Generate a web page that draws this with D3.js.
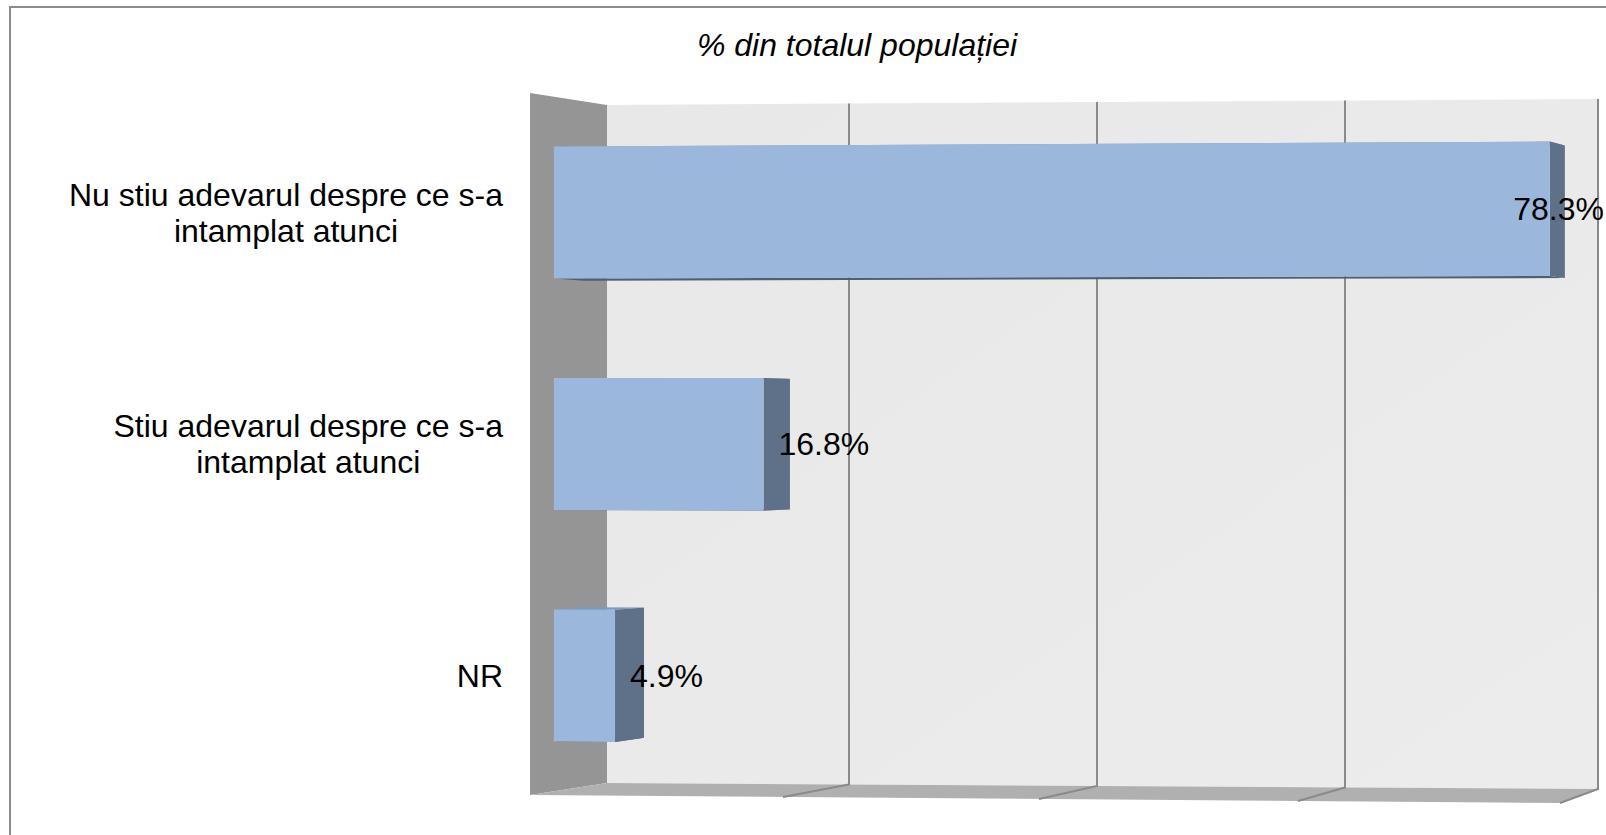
<!DOCTYPE html>
<html>
<head>
<meta charset="utf-8">
<script src="https://cdn.jsdelivr.net/npm/d3@7"></script>
<style>
  body { margin: 0; background: #fff; }
  svg { display: block; font-family: "Liberation Sans", Arial, sans-serif; }
</style>
</head>
<body>
<svg id="canvas" width="1606" height="835"></svg>
<script>
// chart data
const categories = ['Nu stiu adevarul despre ce s-a intamplat atunci', 'Stiu adevarul despre ce s-a intamplat atunci', 'NR'];
const categoryLines = [['Nu stiu adevarul despre ce s-a', 'intamplat atunci'], ['Stiu adevarul despre ce s-a', 'intamplat atunci'], ['NR']];
const values = [78.3, 16.8, 4.9];
const valueLabels = ['78.3%', '16.8%', '4.9%'];
const gridTicks = [0, 20, 40, 60, 80];
const title = '% din totalul populației';

const svg = d3.select('#canvas');

/** fake 3d projection: v = value, z = depth (0 front, 1 back), u = vertical fraction */
const xFront = d3.scaleLinear().domain(gridTicks).range([530, 783, 1039, 1298, 1560]);
const xBack = d3.scaleLinear().domain(gridTicks).range([607, 849, 1097, 1345, 1598]);
const yTopFront = d3.scaleLinear().domain([0, 80]).range([93, 87]);
const yTopBack = d3.scaleLinear().domain([0, 80]).range([105, 99]);
const yBotFront = d3.scaleLinear().domain([0, 80]).range([795, 803]);
const yBotBack = d3.scaleLinear().domain([0, 80]).range([783, 789]);

const lerp = (a, b, t) => a + (b - a) * t;
const proj = (v, z, u) => {
    const x = lerp(xFront(v), xBack(v), z);
    const top = lerp(yTopFront(v), yTopBack(v), z);
    const bot = lerp(yBotFront(v), yBotBack(v), z);
    return [x, lerp(top, bot, u)];
};
const poly = (pts) => 'M' + pts.map(p => proj(...p).join(',')).join('L') + 'Z';

const band = d3.scaleBand().domain(categories).range([0, 1]).paddingInner(0.43).paddingOuter(0.215);
const z1 = 0.31, z2 = 0.70;

/** outer border */
svg.append('rect')
    .attr('x', 10).attr('y', 7).attr('width', 1620).attr('height', 850)
    .attr('fill', 'none').attr('stroke', '#8c8c8c').attr('stroke-width', 2);

/** title */
svg.append('text')
    .attr('x', 857).attr('y', 56)
    .attr('text-anchor', 'middle')
    .style('font-size', '32px').style('font-style', 'italic')
    .text(title);

const defs = svg.append('defs');
const grad = defs.append('linearGradient').attr('id', 'backGrad')
    .attr('x1', 0).attr('y1', 0).attr('x2', 1).attr('y2', 1);
grad.append('stop').attr('offset', 0).attr('stop-color', '#e8e8e8');
grad.append('stop').attr('offset', 1).attr('stop-color', '#ececec');

/** back wall */
svg.append('path')
    .attr('d', poly([[0, 1, 0], [80, 1, 0], [80, 1, 1], [0, 1, 1]]))
    .attr('fill', 'url(#backGrad)');

/** left wall */
svg.append('path')
    .attr('d', poly([[0, 0, 0], [0, 1, 0], [0, 1, 1], [0, 0, 1]]))
    .attr('fill', '#959595');

/** floor */
svg.append('path')
    .attr('d', poly([[0, 0, 1], [0, 1, 1], [80, 1, 1], [80, 0, 1]]))
    .attr('fill', '#b0b0b0');

/** gridlines on back wall + floor ticks */
const line = d3.line();
svg.selectAll('.grid')
    .data(gridTicks.slice(1))
    .enter()
    .append('path')
    .attr('class', 'grid')
    .attr('d', (t) => line([proj(t, 1, 0), proj(t, 1, 1), proj(t, 0, 1)]))
    .attr('fill', 'none')
    .attr('stroke', '#8a8a8a')
    .attr('stroke-width', 2);

/** bars */
const bars = svg.selectAll('.bar')
    .data(values)
    .enter()
    .append('g')
    .attr('class', 'bar');

bars.append('path')
    .attr('d', (v, i) => {
        const u1 = band(categories[i]) + band.bandwidth();
        return poly([[0, z1, u1], [v, z1, u1], [v, z2, u1], [0, z2, u1]]);
    })
    .attr('fill', '#4d5e77');

bars.append('path')
    .attr('d', (v, i) => {
        const u0 = band(categories[i]);
        return poly([[0, z1, u0], [v, z1, u0], [v, z2, u0], [0, z2, u0]]);
    })
    .attr('fill', '#7f99bd');

bars.append('path')
    .attr('d', (v, i) => {
        const u0 = band(categories[i]), u1 = u0 + band.bandwidth();
        return poly([[v, z1, u0], [v, z2, u0], [v, z2, u1], [v, z1, u1]]);
    })
    .attr('fill', '#5f7089');

bars.append('path')
    .attr('d', (v, i) => {
        const u0 = band(categories[i]), u1 = u0 + band.bandwidth();
        return poly([[0, z1, u0], [v, z1, u0], [v, z1, u1], [0, z1, u1]]);
    })
    .attr('fill', '#9bb7db');

/** value labels */
svg.selectAll('.value')
    .data(values)
    .enter()
    .append('text')
    .attr('class', 'value')
    .style('font-size', '32px')
    .attr('dy', '0.35em')
    .text((v, i) => valueLabels[i])
    .each(function (v, i) {
        const um = band(categories[i]) + band.bandwidth() / 2;
        const [x, y] = proj(v, z1, um);
        const w = this.getComputedTextLength();
        d3.select(this).attr('x', Math.min(x + 15, 1604 - w)).attr('y', y);
    });

/** category labels */
svg.selectAll('.cat')
    .data(categoryLines)
    .enter()
    .append('text')
    .attr('class', 'cat')
    .style('font-size', '32px')
    .each(function (lines, i) {
        const um = band(categories[i]) + band.bandwidth() / 2;
        const yc = proj(0, z1, um)[1];
        const el = d3.select(this);
        const t = el.append('tspan').text(lines[0]);
        const w = t.node().getComputedTextLength();
        const cx = 503 - w / 2;
        const lh = 36;
        const y0 = yc - (lines.length - 1) * lh / 2;
        el.selectAll('tspan').remove();
        lines.forEach((s, k) => {
            el.append('tspan')
                .attr('x', cx)
                .attr('y', y0 + k * lh)
                .attr('dy', '0.35em')
                .attr('text-anchor', 'middle')
                .text(s);
        });
    });
</script>
</body>
</html>
